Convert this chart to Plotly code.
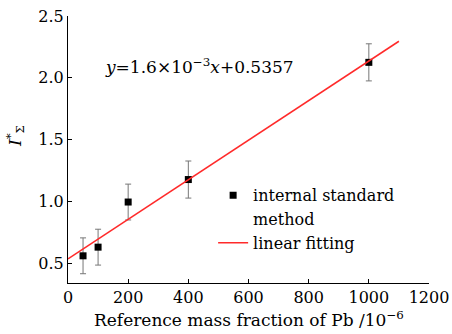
import plotly.graph_objects as go

# data
x_vals = [50, 100, 200, 400, 1000]
y_vals = [0.56, 0.63, 0.995, 1.177, 2.125]
y_err = [0.145, 0.145, 0.145, 0.15, 0.15]
fit_x = [0, 1100]
fit_y = [0.5357, 2.2957]
x_ticks = [0, 200, 400, 600, 800, 1000, 1200]
y_ticks = [0.5, 1.0, 1.5, 2.0, 2.5]
y_tick_text = ["0.5", "1.0", "1.5", "2.0", "2.5"]

FONT = "DejaVu Serif"

fig = go.Figure()
fig.add_trace(go.Scatter(
    x=x_vals, y=y_vals, mode="markers",
    name="internal standard",
    marker=dict(symbol="square", size=7, color="black"),
    error_y=dict(type="data", array=y_err, visible=True, color="#777777", thickness=1, width=3),
))
# continuation line of the first legend label
fig.add_trace(go.Scatter(
    x=[None], y=[None], mode="markers", name="method",
    marker=dict(symbol="square", size=7, color="rgba(0,0,0,0)"),
))
fig.add_trace(go.Scatter(
    x=fit_x, y=fit_y, mode="lines", name="linear fitting",
    line=dict(color="#ff2a2a", width=1.5),
))

fig.add_annotation(
    x=0.365, y=0.86, xref="paper", yref="paper", showarrow=False,
    text="<i>y</i>=1.6×10<sup>−3</sup><i>x</i>+0.5357",
    font=dict(family=FONT, size=17, color="black"),
)
# x-axis title
fig.add_annotation(
    x=0.5, y=-0.086, xref="paper", yref="paper", showarrow=False,
    xanchor="center", yanchor="top",
    text="Reference mass fraction of Pb /10<sup>−6</sup>",
    font=dict(family=FONT, size=17, color="black"),
)
# y-axis title
fig.add_annotation(
    x=-0.147, y=0.55, xref="paper", yref="paper", showarrow=False,
    xanchor="center", yanchor="middle", textangle=-90,
    text="<i>I</i><sup>*</sup><sub>Σ</sub>",
    font=dict(family=FONT, size=17, color="black"),
)

fig.update_layout(
    width=452, height=334,
    margin=dict(l=68, r=23, t=16, b=51, autoexpand=False),
    paper_bgcolor="white", plot_bgcolor="white",
    font=dict(family=FONT, size=16, color="black"),
    showlegend=True,
    legend=dict(x=0.402, y=0.392, xanchor="left", yanchor="top",
                bgcolor="rgba(0,0,0,0)", font=dict(family=FONT, size=16),
                tracegroupgap=0, itemwidth=30),
    xaxis=dict(
        range=[0, 1200], tickvals=x_ticks, ticktext=[str(v) for v in x_ticks],
        showline=True, linecolor="black", linewidth=1, mirror=False, automargin=False,
        ticks="inside", ticklen=4, tickcolor="black", showgrid=False, zeroline=False,
    ),
    yaxis=dict(
        range=[0.34, 2.5], tickvals=y_ticks, ticktext=y_tick_text,
        showline=True, linecolor="black", linewidth=1, mirror=False, automargin=False,
        ticks="inside", ticklen=4, tickcolor="black", showgrid=False, zeroline=False,
    ),
)

fig.write_html("out.html", config={"displayModeBar": False},
               post_script="document.body.style.margin='0';")
